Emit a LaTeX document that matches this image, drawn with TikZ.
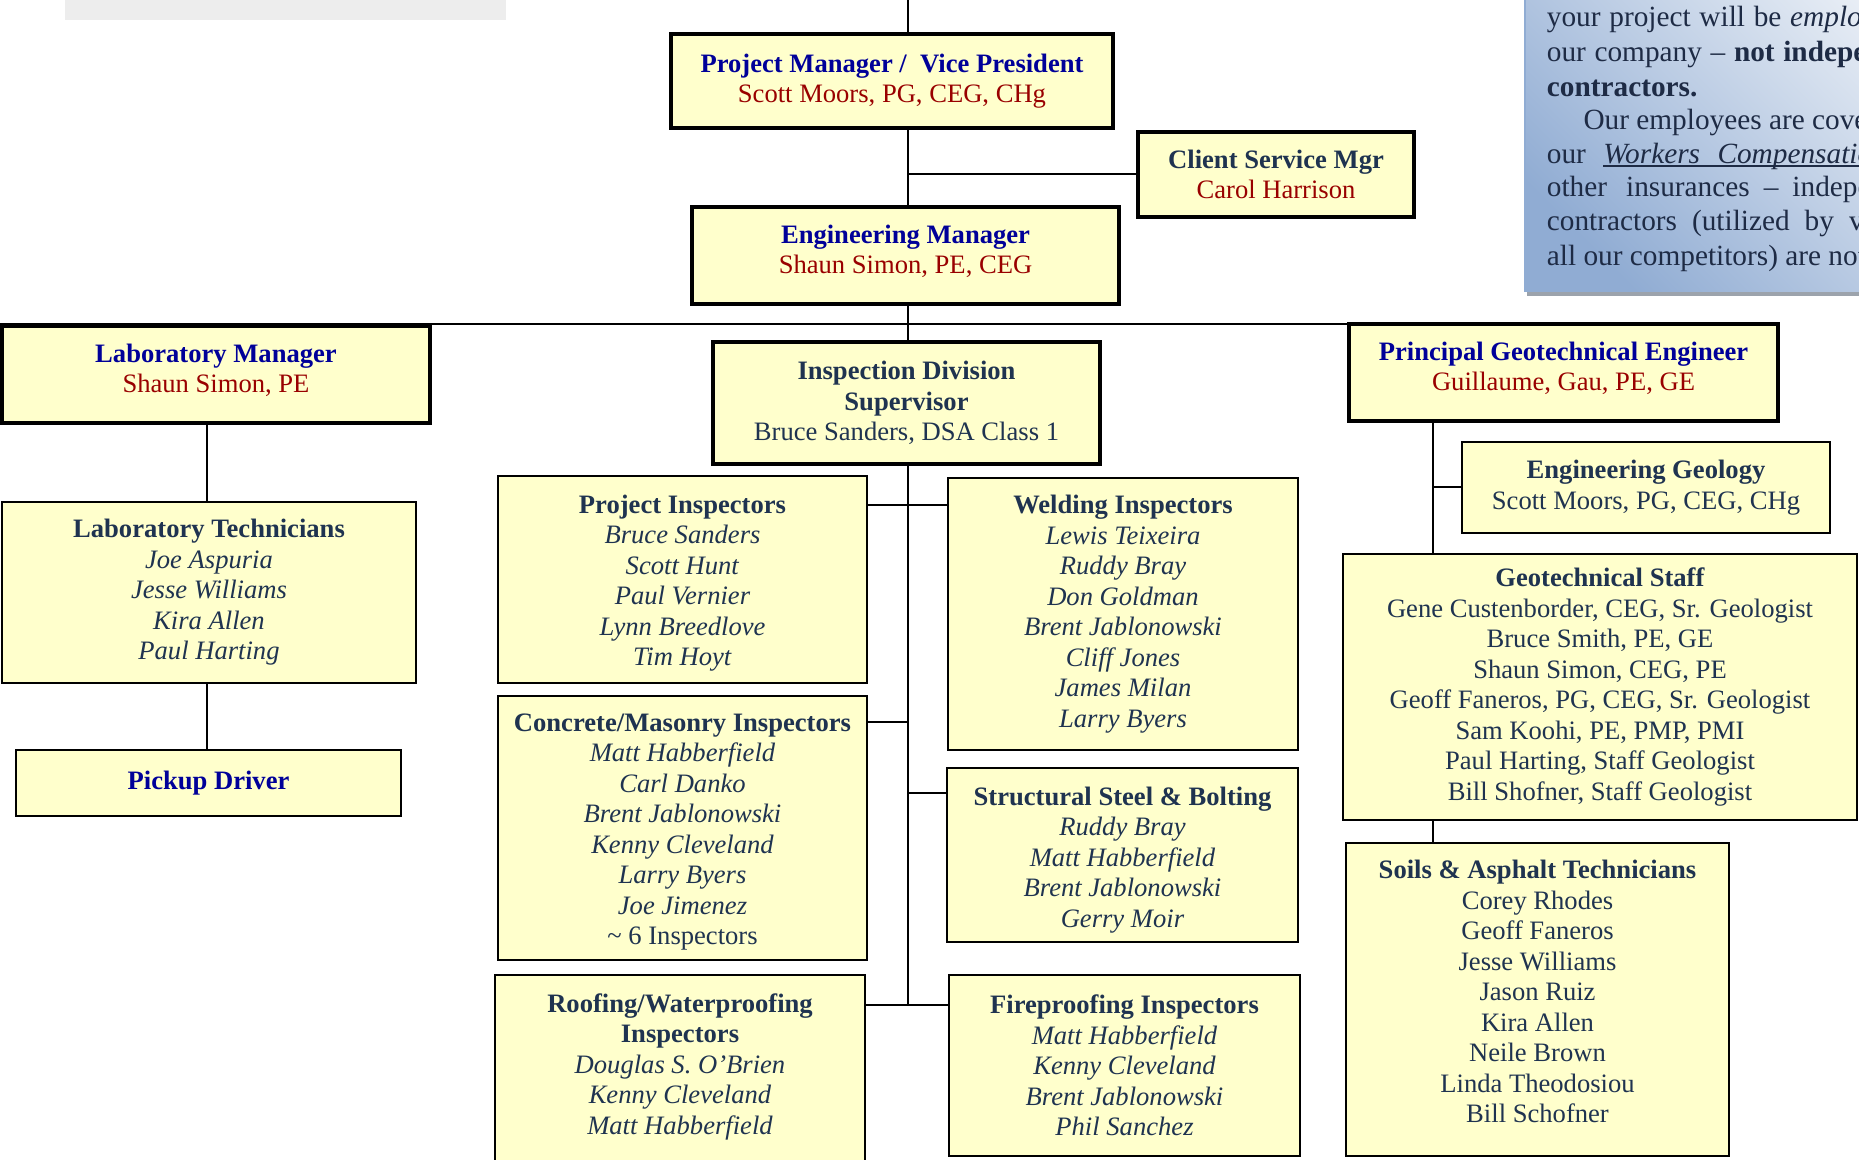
\documentclass[tikz,border=0pt]{standalone}
\usepackage{fontspec}
\setmainfont{Liberation Serif}

\definecolor{boxfill}{HTML}{FFFFCC}
\definecolor{mgrblue}{HTML}{000099}
\definecolor{mgrred}{HTML}{990000}
\definecolor{staff}{HTML}{1F3350}
\definecolor{notetext}{HTML}{1E2B45}
\definecolor{notelight}{HTML}{EAEFF6}
\definecolor{notedark}{HTML}{90ACD3}
\definecolor{noteshadow}{HTML}{9CA3AC}
\definecolor{notegrey}{HTML}{EDEDED}

\newcommand\mgrtitle[1]{\textcolor{mgrblue}{\textbf{#1}}}
\newcommand\mgrname[1]{\textcolor{mgrred}{#1}}
\newcommand\unithead[1]{\textbf{#1}}
\newcommand\staffname[1]{\textit{#1}}
\newcommand\baseunderline[1]{\setbox0=\hbox{#1}\leavevmode\rlap{\rule[-3.2pt]{\wd0}{1.5pt}}\box0}
% empty lead-in / trail-out lines that nudge a box's text down / up
\newcommand\leadin[1]{\mbox{}\\[#1]}
\newcommand\trailout[1]{\\[#1]\mbox{}}

\begin{document}
\begin{tikzpicture}[x=1pt,y=-1pt,
  box/.style={draw=black, fill=boxfill, inner sep=0pt, align=center,
    font=\fontsize{26.6}{30.5}\selectfont, text=staff},
  lead/.style={box, line width=3.5pt},
  unit/.style={box, line width=1.6pt},
  link/.style={draw=black, line width=1.6pt},
  heavylink/.style={draw=black, line width=2.6pt},
  noteline/.style={anchor=base west, inner sep=0pt, text=notetext,
    font=\fontsize{29.3}{34}\selectfont},
]
\useasboundingbox (0,0) rectangle (1859,1159);
\clip (0,0) rectangle (1859,1159);

% faint header strip and the side note panel
\fill[notegrey] (65,0) rectangle (506,20);
\fill[noteshadow] (1527,290) rectangle (1880,296);
\shade[top color=notelight, bottom color=notedark, shading angle=-45]
  (1524,-60) rectangle (1920,291);
\draw[notedark, line width=2pt] (1525,-10) -- (1525,291);

\node[noteline] (note1) at (1546.7,26.9) {your\hspace{8.75pt}project\hspace{8.75pt}will\hspace{8.75pt}be\hspace{8.75pt}\textit{employees of}};
\node[noteline] (note2) at (1546.7,61.5) {our\hspace{8.6pt}company\hspace{8.6pt}–\hspace{8.6pt}\textbf{not\hspace{8.6pt}independent}};
\node[noteline] (note3) at (1546.7,96.2) {\textbf{contractors.}};
\node[noteline] (note4) at (1583.3,129.8) {Our employees are covered by};
\node[noteline] (note5) at (1546.7,163.4) {our\hspace{17.5pt}\baseunderline{\textit{Workers}\hspace{17.5pt}\textit{Compensation}}};
\node[noteline] (note6) at (1546.7,196.9) {other\hspace{19pt}insurances\hspace{14pt}–\hspace{14pt}independent};
\node[noteline] (note7) at (1546.7,230.8) {contractors\hspace{15pt}(utilized\hspace{15pt}by\hspace{15pt}virtually};
\node[noteline] (note8) at (1546.7,265) {all our competitors) are not};

% management chain
\node[lead, minimum width=442pt, minimum height=94pt] (pm) at (892,81)
  {\mgrtitle{Project Manager /\ \ Vice President}\\\mgrname{Scott Moors, PG, CEG, CHg}};
\node[lead, minimum width=276pt, minimum height=85pt] (csm) at (1276,174.5)
  {\unithead{Client Service Mgr}\\\mgrname{Carol Harrison}};
\node[lead, minimum width=427pt, minimum height=97pt] (em) at (905.5,255.5)
  {\mgrtitle{Engineering Manager}\\\mgrname{Shaun Simon, PE, CEG}\trailout{-18.2pt}};
\node[lead, minimum width=428pt, minimum height=97pt] (lm) at (216,374.5)
  {\mgrtitle{Laboratory Manager}\\\mgrname{Shaun Simon, PE}\trailout{-18.2pt}};
\node[lead, minimum width=387pt, minimum height=122pt] (ids) at (906.5,403)
  {\unithead{Inspection Division}\\\unithead{Supervisor}\\Bruce Sanders, DSA Class 1};
\node[lead, minimum width=429pt, minimum height=97pt] (pge) at (1563.5,372.5)
  {\mgrtitle{Principal Geotechnical Engineer}\\\mgrname{Guillaume, Gau, PE, GE}\trailout{-18.2pt}};

% laboratory branch
\node[unit, minimum width=414pt, minimum height=181pt] (lt) at (209,592.5)
  {\unithead{Laboratory Technicians}\\\staffname{Joe Aspuria}\\\staffname{Jesse Williams}\\\staffname{Kira Allen}\\\staffname{Paul Harting}};
\node[unit, minimum width=385pt, minimum height=66pt] (pd) at (208.5,783)
  {\mgrtitle{Pickup Driver}};

% inspection branch
\node[unit, minimum width=369pt, minimum height=207pt] (pi) at (682.5,579.5)
  {\leadin{-5.1pt}\unithead{Project Inspectors}\\\staffname{Bruce Sanders}\\\staffname{Scott Hunt}\\\staffname{Paul Vernier}\\\staffname{Lynn Breedlove}\\\staffname{Tim Hoyt}};
\node[unit, minimum width=350pt, minimum height=272pt] (wi) at (1123,614)
  {\unithead{Welding Inspectors}\\\staffname{Lewis Teixeira}\\\staffname{Ruddy Bray}\\\staffname{Don Goldman}\\\staffname{Brent Jablonowski}\\\staffname{Cliff Jones}\\\staffname{James Milan}\\\staffname{Larry Byers}};
\node[unit, minimum width=369pt, minimum height=264pt] (cm) at (682.5,828)
  {\leadin{-5.1pt}\unithead{Concrete/Masonry Inspectors}\\\staffname{Matt Habberfield}\\\staffname{Carl Danko}\\\staffname{Brent Jablonowski}\\\staffname{Kenny Cleveland}\\\staffname{Larry Byers}\\\staffname{Joe Jimenez}\\\textasciitilde\ 6 Inspectors};
\node[unit, minimum width=351pt, minimum height=174pt] (ss) at (1122.5,855)
  {\leadin{-2.1pt}\unithead{Structural Steel \& Bolting}\\\staffname{Ruddy Bray}\\\staffname{Matt Habberfield}\\\staffname{Brent Jablonowski}\\\staffname{Gerry Moir}};
\node[unit, minimum width=370pt, minimum height=208pt] (rw) at (680,1079)
  {\unithead{Roofing/Waterproofing}\\\unithead{Inspectors}\\\staffname{Douglas S. O’Brien}\\\staffname{Kenny Cleveland}\\\staffname{Matt Habberfield}\\\mbox{}};
\node[unit, minimum width=351pt, minimum height=181pt] (fp) at (1124.5,1065.5)
  {\unithead{Fireproofing Inspectors}\\\staffname{Matt Habberfield}\\\staffname{Kenny Cleveland}\\\staffname{Brent Jablonowski}\\\staffname{Phil Sanchez}};

% geotechnical branch
\node[unit, minimum width=368pt, minimum height=91pt] (eg) at (1646,487.5)
  {\unithead{Engineering Geology}\\Scott Moors, PG, CEG, CHg};
\node[unit, minimum width=514pt, minimum height=266pt] (gs) at (1600,687)
  {\unithead{Geotechnical Staff}\\Gene Custenborder, CEG, Sr. Geologist\\Bruce Smith, PE, GE\\Shaun Simon, CEG, PE\\Geoff Faneros, PG, CEG, Sr. Geologist\\Sam Koohi, PE, PMP, PMI\\Paul Harting, Staff Geologist\\Bill Shofner, Staff Geologist};
\node[unit, minimum width=383pt, minimum height=313pt] (sa) at (1537.5,999.5)
  {\unithead{Soils \& Asphalt Technicians}\\Corey Rhodes\\Geoff Faneros\\Jesse Williams\\Jason Ruiz\\Kira Allen\\Neile Brown\\Linda Theodosiou\\Bill Schofner\trailout{-14.5pt}};

% junction points of the connector tree
\coordinate (trunk) at (908,-5);
\coordinate (csmj) at (908,174);
\coordinate (busl) at (-5,324);
\coordinate (labx) at (207,0);
\coordinate (pij) at (908,505);
\coordinate (cmj) at (908,722);
\coordinate (ssj) at (908,793);
\coordinate (rwj) at (908,1005);
\coordinate (geox) at (1433,0);
\coordinate (egj) at (1433,487);

% connectors
\draw[link] (trunk) -- (trunk |- pm.north);
\draw[link] (trunk |- pm.south) -- (trunk |- em.north);
\draw[link] (csmj) -- (csmj -| csm.west);
\draw[link] (trunk |- em.south) -- (trunk |- ids.north);
\draw[link] (busl) -- (busl -| pge.west);
\draw[link] (labx |- lm.south) -- (labx |- lt.north);
\draw[link] (labx |- lt.south) -- (labx |- pd.north);
\draw[link] (trunk |- ids.south) -- (rwj);
\draw[link] (pij -| pi.east) -- (pij -| wi.west);
\draw[heavylink] (cmj -| cm.east) -- (cmj);
\draw[link] (ssj) -- (ssj -| ss.west);
\draw[heavylink] (rwj -| rw.east) -- (rwj -| fp.west);
\draw[link] (geox |- pge.south) -- (geox |- gs.north);
\draw[link] (egj) -- (egj -| eg.west);
\draw[link] (geox |- gs.south) -- (geox |- sa.north);
\end{tikzpicture}
\end{document}
